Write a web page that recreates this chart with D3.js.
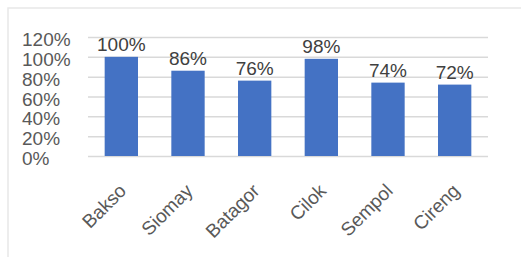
<!DOCTYPE html>
<html>
<head>
<meta charset="utf-8">
<script src="https://cdn.jsdelivr.net/npm/d3@7"></script>
<style>
  body { margin: 0; background: #fff; }
  svg { display: block; font-family: "Liberation Sans", Arial, sans-serif; }
</style>
</head>
<body>
<svg width="521" height="257"></svg>
<script>
// chart data
const categories = ["Bakso", "Siomay", "Batagor", "Cilok", "Sempol", "Cireng"];
const values = [1.00, 0.86, 0.76, 0.98, 0.74, 0.72];
const yTicks = [0, 0.2, 0.4, 0.6, 0.8, 1.0, 1.2];

const svg = d3.select("svg");

// chart frame (only top and left edge are in view)
svg.append("path")
    .attr("d", "M8,257 L8,8 L521,8")
    .attr("fill", "none")
    .attr("stroke", "#e8e8e8")
    .attr("stroke-width", 1.5);

const plotLeft = 88, plotRight = 488, plotTop = 37, plotBottom = 156;

const x = d3.scaleBand()
    .domain(categories)
    .range([plotLeft, plotRight])
    .paddingInner(0.5)
    .paddingOuter(0.25);

const y = d3.scaleLinear()
    .domain([0, 1.2])
    .range([plotBottom, plotTop]);

// y axis + gridlines
const yAxis = svg.append("g")
    .attr("transform", `translate(${plotLeft},0)`)
    .call(d3.axisLeft(y)
        .tickValues(yTicks)
        .tickSize(-(plotRight - plotLeft))
        .tickFormat(d3.format(".0%")));

yAxis.select(".domain").remove();
yAxis.selectAll(".tick line")
    .attr("stroke", "#d9d9d9")
    .attr("stroke-width", 1.5);
yAxis.selectAll(".tick text")
    .attr("x", 22 - plotLeft)
    .attr("dy", "0.45em")
    .attr("text-anchor", "start")
    .attr("fill", "#595959")
    .style("font-size", "19px")
    .style("font-family", "Liberation Sans, Arial, sans-serif");

// bars
svg.append("g")
    .selectAll("rect")
    .data(values)
    .join("rect")
    .attr("x", (d, i) => x(categories[i]))
    .attr("y", d => y(d))
    .attr("width", x.bandwidth())
    .attr("height", d => y(0) - y(d))
    .attr("fill", "#4472c4");

// data labels
svg.append("g")
    .selectAll("text")
    .data(values)
    .join("text")
    .attr("x", (d, i) => x(categories[i]) + x.bandwidth() / 2)
    .attr("y", d => y(d) - 6)
    .attr("text-anchor", "middle")
    .attr("fill", "#404040")
    .style("font-size", "19px")
    .text(d => d3.format(".0%")(d));

// rotated category labels
svg.append("g")
    .selectAll("text")
    .data(categories)
    .join("text")
    .attr("transform", d => `translate(${x(d) + x.bandwidth() / 2 + 6},${plotBottom + 36}) rotate(-45)`)
    .attr("text-anchor", "end")
    .attr("fill", "#595959")
    .style("font-size", "19px")
    .text(d => d);
</script>
</body>
</html>
